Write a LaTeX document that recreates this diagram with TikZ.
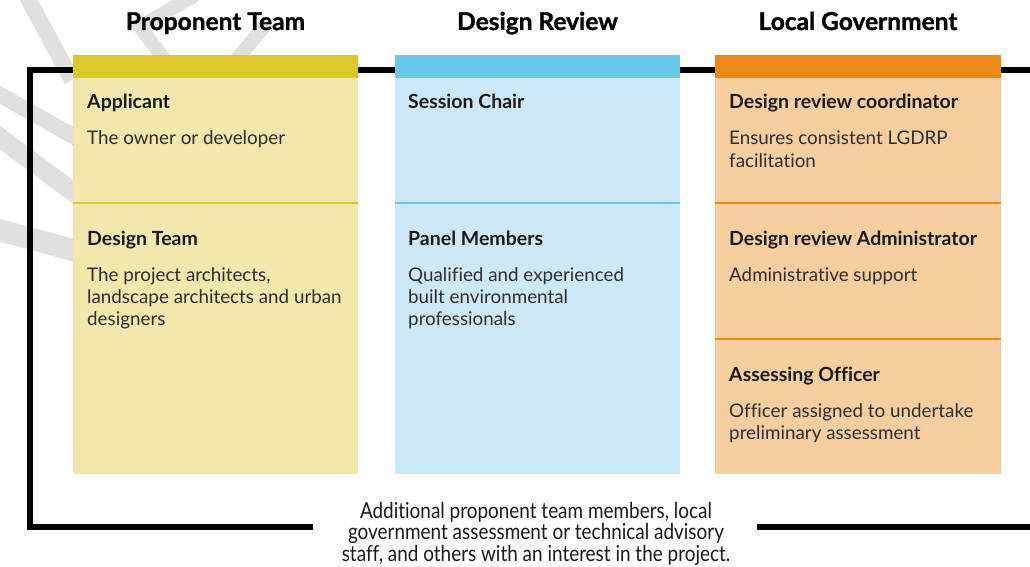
\documentclass[tikz,border=0pt]{standalone}
\usepackage{fontspec}
\setmainfont[Ligatures=NoCommon]{Lato}
\newfontfamily\condfont[FakeStretch=0.86,Ligatures=NoCommon]{Lato}
\newfontfamily\titlefont[BoldFeatures={FakeBold=1.2},Ligatures=NoCommon]{Lato}
\definecolor{yelH}{HTML}{DCC82C}
\definecolor{yelB}{HTML}{F1E8AE}
\definecolor{bluH}{HTML}{68C7EA}
\definecolor{bluB}{HTML}{CDE9F7}
\definecolor{orgH}{HTML}{EC8817}
\definecolor{orgB}{HTML}{F6CEA0}
\definecolor{wmgrey}{HTML}{E0E0E0}
\definecolor{txt}{HTML}{1A1A1A}
\definecolor{bodytxt}{HTML}{2E2E2E}
\tikzset{
  wm/.style={draw=wmgrey, line width=16pt},
  frame/.style={draw=black, line width=6pt},
  coltitle/.style={anchor=base, font=\titlefont\fontsize{24.5}{27}\selectfont\bfseries, text=black, inner sep=0pt},
  rolehead/.style={anchor=base west, font=\fontsize{19.5}{22}\selectfont\bfseries, text=txt, inner sep=0pt},
  roletext/.style={anchor=base west, align=left, font=\fontsize{18.8}{22}\selectfont, text=bodytxt, inner sep=0pt},
  note/.style={anchor=base, align=center, font=\condfont\fontsize{22}{21.5}\selectfont, text=txt, inner sep=0pt},
}
\begin{document}
\begin{tikzpicture}[x=1pt,y=-1pt]
\useasboundingbox (0,0) rectangle (1030,567);
\clip (0,0) rectangle (1030,567);
% watermark
\draw[wm] (26,-5) -- (72,80);
\draw[wm] (-5,92) -- (80,140);
\draw[wm, line width=19pt] (-5,134) -- (80,197);
\draw[wm, line width=22pt] (-5,229) -- (80,252);
\draw[wm, line width=14pt] (195,-5) -- (140,27) -- (165,60);
\draw[wm, line width=14pt] (268,22) -- (236,60);
% frame
\coordinate (fbl) at (313,527);
\coordinate (ftr) at (1040,70);
\coordinate (fbr) at (757,527);
\coordinate (fbe) at (1040,527);
\draw[frame] (fbl) -| (30,70) -- (ftr);
\draw[frame] (fbr) -- (fbe);
% columns
\fill[yelB] (73,78) rectangle (358,474);
\fill[yelH] (73,55) rectangle (358,78);
\draw[yelH, line width=2pt] (73,203) -- (358,203);
\fill[bluB] (395,78) rectangle (680,474);
\fill[bluH] (395,55) rectangle (680,78);
\draw[bluH, line width=2pt] (395,203) -- (680,203);
\fill[orgB] (715,78) rectangle (1001,474);
\fill[orgH] (715,55) rectangle (1001,78);
\draw[orgH, line width=2pt] (715,203) -- (1001,203);
\draw[orgH, line width=2pt] (715,339) -- (1001,339);
% titles
\node[coltitle] (t1) at (215.5,30) {Proponent Team};
\node[coltitle] (t2) at (537.5,30) {Design Review};
\node[coltitle] (t3) at (858,30) {Local Government};
% proponent (multi-line nodes: base anchor is the last line)
\node[rolehead] (applicant) at (87,109) {Applicant};
\node[roletext] (applicantT) at (87,145) {The owner or developer};
\node[rolehead] (designteam) at (87,245) {Design Team};
\node[roletext] (designteamT) at (87,325) {The project architects,\\landscape architects and urban\\designers};
% design review
\node[rolehead] (chair) at (408,109) {Session Chair};
\node[rolehead] (panel) at (408,245) {Panel Members};
\node[roletext] (panelT) at (408,325) {Qualified and experienced\\built environmental\\professionals};
% local government
\node[rolehead] (coord) at (729,109) {Design review coordinator};
\node[roletext] (coordT) at (729,167) {Ensures consistent LGDRP\\facilitation};
\node[rolehead] (admin) at (729,245) {Design review Administrator};
\node[roletext] (adminT) at (729,281) {Administrative support};
\node[rolehead] (officer) at (729,381) {Assessing Officer};
\node[roletext] (officerT) at (729,439) {Officer assigned to undertake\\preliminary assessment};
% bottom note
\node[note] (others) at (536,561) {Additional proponent team members, local\\government assessment or technical advisory\\staff, and others with an interest in the project.};
\end{tikzpicture}
\end{document}
